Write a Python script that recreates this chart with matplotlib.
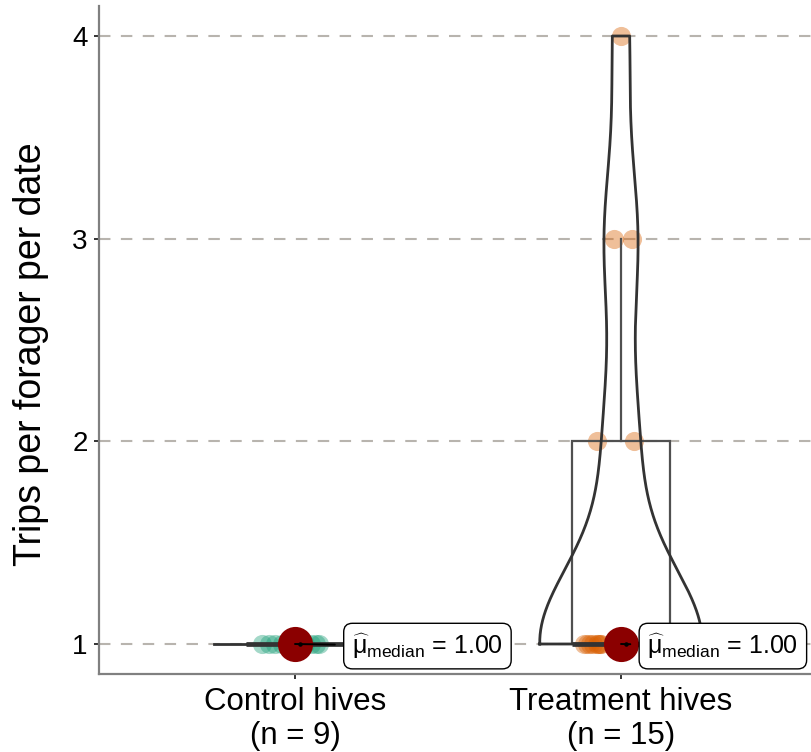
import numpy as np
import matplotlib
matplotlib.use("Agg")
import matplotlib.pyplot as plt
from matplotlib.patches import Rectangle

# ---------------- data ----------------
groups = ["Control hives", "Treatment hives"]
control_values = [1, 1, 1, 1, 1, 1, 1, 1, 1]
treatment_values = [1, 1, 1, 1, 1, 1, 1, 1, 1, 1, 2, 2, 3, 3, 4]
y_ticks = [1, 2, 3, 4]
y_label = "Trips per forager per date"
median_labels = ["1.00", "1.00"]

# jitter offsets (visual placement only, in x units)
control_jitter = [-0.10, -0.08, -0.06, -0.04, -0.02, 0.03, 0.05, 0.065, 0.075]
treatment_jitter = [-0.115, -0.105, -0.095, -0.085, -0.075, -0.07, -0.065, -0.06, -0.01, 0.02,
                    -0.075, 0.04, -0.02, 0.035, 0.0]

plt.rcParams["font.family"] = ["Liberation Sans", "DejaVu Sans"]
plt.rcParams["mathtext.fontset"] = "custom"
plt.rcParams["mathtext.rm"] = "Liberation Sans"
plt.rcParams["mathtext.it"] = "Liberation Sans:italic"
plt.rcParams["mathtext.default"] = "regular"

W, H = 811, 752
fig = plt.figure(figsize=(W / 100, H / 100), dpi=100)
left, right_px, top_px, bot_px = 99.4, 816.6, 5.6, 674.4
ax = fig.add_axes([left / W, 1 - bot_px / H, (right_px - left) / W, (bot_px - top_px) / H])
ax.set_xlim(0.4, 2.6)
ax.set_ylim(0.85, 4.15)

colors = ["#1B9E77", "#D95F02"]
dark = "#333333"
boxc = "#505050"


def nrd0(x):
    x = np.asarray(x, float)
    hi = np.std(x, ddof=1)
    q75, q25 = np.percentile(x, [75, 25])
    lo = min(hi, (q75 - q25) / 1.34)
    if not lo:
        lo = hi or abs(x[0]) or 1.0
    return 0.9 * lo * len(x) ** (-0.2)


def kde(x, grid):
    x = np.asarray(x, float)
    h = nrd0(x)
    z = (grid[:, None] - x[None, :]) / h
    return np.exp(-0.5 * z ** 2).sum(axis=1) / (len(x) * h * np.sqrt(2 * np.pi))


all_vals = [control_values, treatment_values]
jitters = [control_jitter, treatment_jitter]

# densities
dens = []
for vals in all_vals:
    lo, hi = min(vals), max(vals)
    if hi > lo:
        g = np.linspace(lo, hi, 512)
    else:
        g = np.array([lo])
    dens.append((g, kde(vals, g)))
dmax = max(d.max() for _, d in dens)

# jittered points
for i, vals in enumerate(all_vals):
    xs = [i + 1 + j for j in jitters[i]]
    ax.scatter(xs, vals, s=190, color=colors[i], alpha=0.4, linewidths=0, zorder=3)

# boxplots
for i, vals in enumerate(all_vals):
    xc = i + 1
    q1, med, q3 = np.percentile(vals, [25, 50, 75])
    iqr = q3 - q1
    arr = np.asarray(vals)
    upper = arr[arr <= q3 + 1.5 * iqr].max()
    lower = arr[arr >= q1 - 1.5 * iqr].min()
    bw = 0.15
    ax.add_patch(Rectangle((xc - bw, q1), 2 * bw, q3 - q1, fill=False, edgecolor=boxc,
                           linewidth=1.6, zorder=4))
    ax.plot([xc - bw, xc + bw], [med, med], color=dark, linewidth=3.4, zorder=4,
            solid_capstyle="butt")
    if upper > q3:
        ax.plot([xc, xc], [q3, upper], color=boxc, linewidth=1.6, zorder=4)
    if lower < q1:
        ax.plot([xc, xc], [lower, q1], color=boxc, linewidth=1.6, zorder=4)

# violins
for i, (g, d) in enumerate(dens):
    xc = i + 1
    half = d / dmax * 0.25
    if len(g) > 1:
        xv = np.concatenate([xc - half, (xc + half)[::-1], [xc - half[0]]])
        yv = np.concatenate([g, g[::-1], [g[0]]])
        ax.plot(xv, yv, color=dark, linewidth=2.0, zorder=5)
    else:
        ax.plot([xc - half[0], xc + half[0]], [g[0], g[0]], color=dark, linewidth=2.0, zorder=5)

# median points + labels
label_offsets = [(41, -1.5), (19, -1.5)]  # points
for i, vals in enumerate(all_vals):
    xc = i + 1
    med = np.median(vals)
    ax.scatter([xc], [med], s=640, color="#8B0000", zorder=6, linewidths=0)
    ax.annotate(r"$\widehat{\mu}_{\mathrm{median}}$ = " + median_labels[i],
                xy=(xc, med), xycoords="data",
                xytext=label_offsets[i], textcoords="offset points",
                ha="left", va="center", fontsize=18, zorder=7,
                bbox=dict(boxstyle="round,pad=0.33,rounding_size=0.35", fc="white", ec="black", lw=1.0),
                arrowprops=dict(arrowstyle="-", color="black", lw=1.4, shrinkA=6, shrinkB=0))
    ax.scatter([xc + 0.015], [med], s=5, color="black", zorder=8)

# grid
for yt in y_ticks:
    ax.axhline(yt, color="#b8b4ae", linewidth=1.5, linestyle=(0, (5.5, 5)), zorder=1)

ax.set_xticks([1, 2])
ax.set_xticklabels([f"{g}\n(n = {len(v)})" for g, v in zip(groups, all_vals)], fontsize=22.5,
                   linespacing=1.2)
ax.set_yticks(y_ticks)
ax.set_yticklabels([str(t) for t in y_ticks], fontsize=20)
ax.set_ylabel(y_label, fontsize=27)
ax.yaxis.set_label_coords((49 - left) / (right_px - left), (bot_px - 354) / (bot_px - top_px))

for s in ["top", "right"]:
    ax.spines[s].set_visible(False)
for s in ["left", "bottom"]:
    ax.spines[s].set_color("#808080")
    ax.spines[s].set_linewidth(1.6)
ax.tick_params(axis="both", length=3.8, width=1.4, color=dark, labelcolor="black")
ax.tick_params(axis="y", pad=4.5)
ax.tick_params(axis="x", pad=5)

fig.savefig("out.png", dpi=100)
